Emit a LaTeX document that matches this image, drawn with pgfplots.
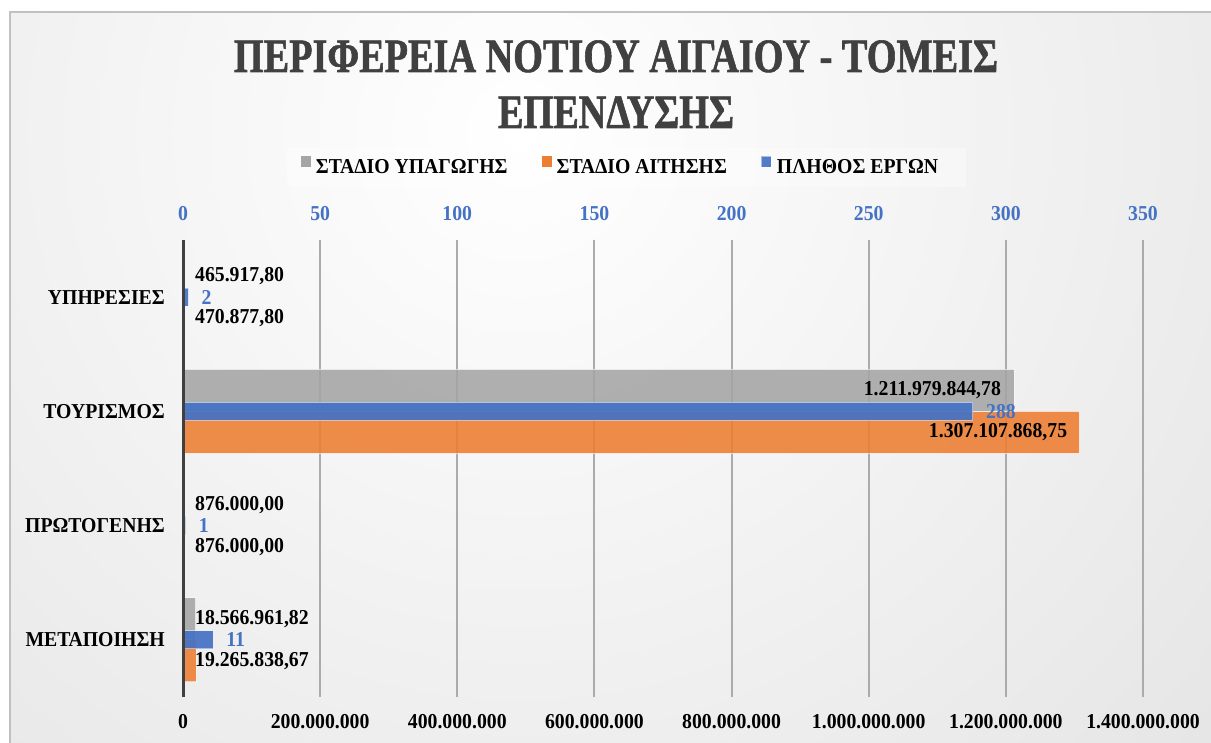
\documentclass[border=0pt]{standalone}
\usepackage{fontspec}
\setmainfont{Liberation Serif}[FakeStretch=0.93]
\newfontfamily\titlefont{Liberation Serif}[FakeStretch=0.8, FakeBold=1.2]
\usepackage{pgfplots}
\usepackage{pgfplotstable}
\pgfplotsset{compat=1.18}
\definecolor{cgray}{HTML}{A5A5A5}
\definecolor{corange}{HTML}{ED7D31}
\definecolor{cblue}{HTML}{4472C4}
\definecolor{titlegray}{HTML}{404040}
\definecolor{gridgray}{HTML}{ABABAB}
\definecolor{axisdark}{HTML}{404040}
\newcommand{\lblfont}{\fontsize{21.3}{25}\selectfont\bfseries}

% ΣΤΑΔΙΟ ΥΠΑΓΩΓΗΣ (gray)
\pgfplotstableread{
y val lab
0 18566961.82 18.566.961,82
1 876000.00 876.000,00
2 1211979844.78 1.211.979.844,78
3 465917.80 465.917,80
}\tabgray
% ΣΤΑΔΙΟ ΑΙΤΗΣΗΣ (orange)
\pgfplotstableread{
y val lab
0 19265838.67 19.265.838,67
1 876000.00 876.000,00
2 1307107868.75 1.307.107.868,75
3 470877.80 470.877,80
}\taborange
% ΠΛΗΘΟΣ ΕΡΓΩΝ (blue, secondary axis)
\pgfplotstableread{
y val lab
0 11 11
1 1 1
2 288 288
3 2 2
}\tabblue

\pgfplotsset{
  lbl/.style={draw=none, mark=none, nodes near coords, point meta=explicit symbolic,
    every node near coord/.append style={inner sep=0pt, font=\lblfont, text=black}},
  sqlegend/.style={legend image code/.code={\fill[##1] (0bp,0bp) rectangle (10bp,11bp);}},
}

\begin{document}
\begin{tikzpicture}[x=1bp,y=1bp]
\useasboundingbox (0,0) rectangle (1211,743);
\fill[white] (0,0) rectangle (1211,743);
\begin{scope}
\clip (10,0) rectangle (1211,731);
\shade[inner color=white, outer color={rgb,255:red,203;green,203;blue,203}] (520,610) circle (1900);
\end{scope}
\draw[color={rgb,255:red,192;green,192;blue,192}, line width=1.5bp] (10,-5) -- (10,731) -- (1220,731);
\fill[white, opacity=0.35] (287,556) rectangle (966,595);

\node[anchor=base, text=titlegray, font=\titlefont\fontsize{48}{56}\selectfont\bfseries] at (616,671) {ΠΕΡΙΦΕΡΕΙΑ ΝΟΤΙΟΥ ΑΙΓΑΙΟΥ - ΤΟΜΕΙΣ};
\node[anchor=base, text=titlegray, font=\titlefont\fontsize{48}{56}\selectfont\bfseries] at (616,615) {ΕΠΕΝΔΥΣΗΣ};

\begin{axis}[
  at={(183bp,46bp)}, anchor=south west,
  scale only axis, width=960bp, height=457bp,
  xmin=0, xmax=1.4e9, ymin=-0.5, ymax=3.5,
  axis line style={draw=none}, major tick length=0pt,
  xtick={0,2e8,4e8,6e8,8e8,1e9,1.2e9,1.4e9},
  xticklabels={0,200.000.000,400.000.000,600.000.000,800.000.000,1.000.000.000,1.200.000.000,1.400.000.000},
  xmajorgrids, grid style={gridgray, line width=2bp},
  ytick={0,1,2,3},
  yticklabels={ΜΕΤΑΠΟΙΗΣΗ,ΠΡΩΤΟΓΕΝΗΣ,ΤΟΥΡΙΣΜΟΣ,ΥΠΗΡΕΣΙΕΣ},
  yticklabel style={anchor=east, inner sep=0pt, xshift=-18bp},
  xticklabel style={anchor=center, inner sep=0pt, yshift=-24.5bp},
  tick label style={font=\lblfont, text=black},
  clip=false,
]
% bars
\addplot[xbar, bar width=42bp, bar shift=-21bp, fill=corange, fill opacity=0.88, draw=white, draw opacity=0.6, line width=1bp]
  table[x=val, y=y] {\taborange};
\addplot[xbar, bar width=42bp, bar shift=21bp, fill=cgray, fill opacity=0.88, draw=white, draw opacity=0.6, line width=1bp]
  table[x=val, y=y] {\tabgray};
% labels: small values start just right of the axis, large value inside end
\addplot[lbl, every node near coord/.append style={anchor=west, xshift=12bp, yshift=21bp}]
  table[x expr=0, y=y, meta=lab, skip coords between index={2}{3}] {\tabgray};
\addplot[lbl, every node near coord/.append style={anchor=east, xshift=-13bp, yshift=21bp}]
  table[x=val, y=y, meta=lab, skip coords between index={0}{2}, skip coords between index={3}{4}] {\tabgray};
\addplot[lbl, every node near coord/.append style={anchor=west, xshift=12bp, yshift=-21bp}]
  table[x expr=0, y=y, meta=lab, skip coords between index={2}{3}] {\taborange};
\addplot[lbl, every node near coord/.append style={anchor=east, xshift=-12bp, yshift=-21bp}]
  table[x=val, y=y, meta=lab, skip coords between index={0}{2}, skip coords between index={3}{4}] {\taborange};
\end{axis}

\begin{axis}[
  at={(183bp,46bp)}, anchor=south west,
  scale only axis, width=960bp, height=457bp,
  xmin=0, xmax=350, ymin=-0.5, ymax=3.5,
  axis line style={draw=none}, major tick length=0pt,
  ytick=\empty,
  xtick={0,50,100,150,200,250,300,350},
  xticklabels={0,50,100,150,200,250,300,350},
  xticklabel pos=upper,
  xticklabel style={anchor=center, inner sep=0pt, yshift=26bp},
  tick label style={font=\lblfont, text=cblue},
  clip=false,
  legend columns=3,
  legend style={at={(0.4547,1.163)}, anchor=center, draw=none, fill=none,
    font=\lblfont, nodes={inner sep=0pt},
    /tikz/every odd column/.append style={column sep=5bp},
    /tikz/every even column/.append style={column sep=34bp}},
]
\addlegendimage{fill=cgray, draw=none, sqlegend}
\addlegendentry{ΣΤΑΔΙΟ ΥΠΑΓΩΓΗΣ}
\addlegendimage{fill=corange, draw=none, sqlegend}
\addlegendentry{ΣΤΑΔΙΟ ΑΙΤΗΣΗΣ}
\addplot[xbar, bar width=18bp, bar shift=0bp, fill=cblue, fill opacity=0.92, draw=white, draw opacity=0.5, line width=1bp, sqlegend]
  table[x=val, y=y] {\tabblue};
\addlegendentry{ΠΛΗΘΟΣ ΕΡΓΩΝ}
\addplot[lbl, forget plot, every node near coord/.append style={anchor=west, xshift=13bp, text=cblue}]
  table[x=val, y=y, meta=lab] {\tabblue};
\draw[axisdark, line width=3bp] (axis cs:0,-0.5) -- (axis cs:0,3.5);
\end{axis}
\end{tikzpicture}
\end{document}
